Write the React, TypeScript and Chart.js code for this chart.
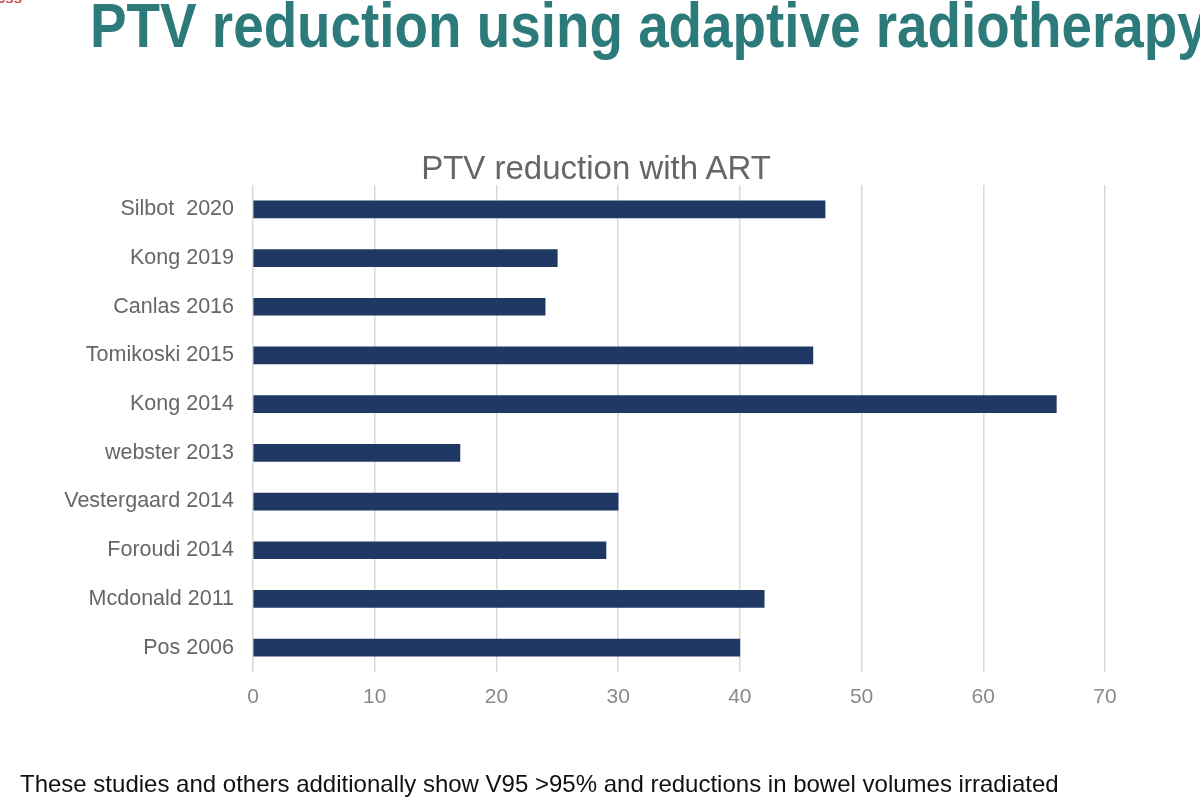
import React, { useEffect, useRef } from "react";
import { Chart, registerables } from "chart.js";

Chart.register(...registerables);

const studies = [
  "Silbot  2020",
  "Kong 2019",
  "Canlas 2016",
  "Tomikoski 2015",
  "Kong 2014",
  "webster 2013",
  "Vestergaard 2014",
  "Foroudi 2014",
  "Mcdonald 2011",
  "Pos 2006",
];
const ptvReduction = [47, 25, 24, 46, 66, 17, 30, 29, 42, 40];
const xTicksMax = 70;
const xTickStep = 10;

const slideTitle = "PTV reduction using adaptive radiotherapy";
const chartTitle = "PTV reduction with ART";
const caption =
  "These studies and others additionally show V95 >95% and reductions in bowel volumes irradiated";

const FONT = "'Liberation Sans', Arial, sans-serif";

export default function App() {
  const canvasRef = useRef<HTMLCanvasElement | null>(null);

  useEffect(() => {
    const ctx = canvasRef.current;
    if (!ctx) return;
    const chart = new Chart(ctx, {
      type: "bar",
      data: {
        labels: studies,
        datasets: [
          {
            label: "PTV reduction",
            data: ptvReduction,
            backgroundColor: "#1f3864",
            borderWidth: 0,
            barThickness: 17,
          },
        ],
      },
      options: {
        indexAxis: "y",
        responsive: false,
        animation: false,
        layout: { padding: { left: 0, right: 95, top: 185, bottom: 0 } },
        plugins: {
          legend: { display: false },
          tooltip: { enabled: false },
          title: { display: false },
        },
        scales: {
          x: {
            min: 0,
            max: xTicksMax,
            ticks: {
              stepSize: xTickStep,
              color: "#8a8a8a",
              padding: 13,
              font: { family: FONT, size: 21 },
            },
            grid: { color: "#d9d9d9", lineWidth: 1.5, drawTicks: false },
            border: { display: false },
            afterFit: (scale: any) => {
              scale.height = 136;
            },
          },
          y: {
            ticks: {
              color: "#666666",
              padding: 19,
              font: { family: FONT, size: 21.5 },
            },
            grid: { display: false, drawTicks: false },
            border: { display: false },
            afterFit: (scale: any) => {
              scale.width = 253;
            },
          },
        },
      },
    });
    return () => chart.destroy();
  }, []);

  return (
    <div
      style={{
        position: "fixed",
        left: 0,
        top: 0,
        width: 1200,
        height: 808,
        background: "#ffffff",
        overflow: "hidden",
      }}
    >
      <canvas
        ref={canvasRef}
        width={1200}
        height={808}
        style={{ position: "absolute", left: 0, top: 0, width: 1200, height: 808 }}
      />
      <div
        style={{
          position: "absolute",
          left: 0,
          width: 1192,
          top: 151,
          textAlign: "center",
          color: "#666666",
          fontFamily: FONT,
          fontSize: 33,
          lineHeight: "33px",
          whiteSpace: "nowrap",
        }}
      >
        {chartTitle}
      </div>
      <div
        style={{
          position: "absolute",
          left: -3,
          top: -11,
          color: "#c0504d",
          fontFamily: FONT,
          fontWeight: "bold",
          fontSize: 15,
        }}
      >
        css
      </div>
      <div
        style={{
          position: "absolute",
          left: 90,
          top: -11,
          color: "#2d7a7a",
          fontFamily: FONT,
          fontWeight: "bold",
          fontSize: 63,
          whiteSpace: "nowrap",
          transform: "scaleX(0.87)",
          transformOrigin: "left top",
        }}
      >
        {slideTitle}
      </div>
      <div
        style={{
          position: "absolute",
          left: 20,
          top: 770,
          color: "#111111",
          fontFamily: FONT,
          fontSize: 24,
          whiteSpace: "nowrap",
        }}
      >
        {caption}
      </div>
    </div>
  );
}
